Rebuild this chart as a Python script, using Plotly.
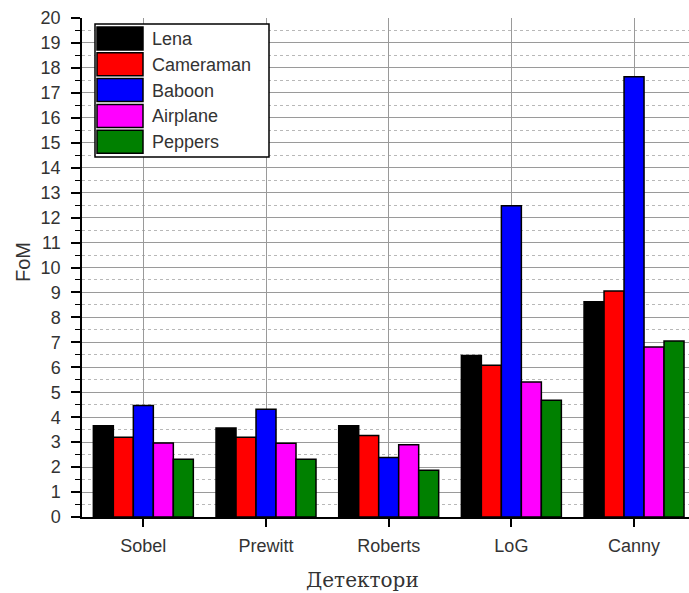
import plotly.graph_objects as go

# ---- data ----
detectors = ["Sobel", "Prewitt", "Roberts", "LoG", "Canny"]
series_names = ["Lena", "Cameraman", "Baboon", "Airplane", "Peppers"]
lena = [3.66, 3.57, 3.66, 6.47, 8.63]
cameraman = [3.20, 3.20, 3.27, 6.08, 9.06]
baboon = [4.47, 4.32, 2.38, 12.47, 17.65]
airplane = [2.97, 2.96, 2.90, 5.41, 6.81]
peppers = [2.31, 2.31, 1.87, 4.68, 7.05]
series_values = [lena, cameraman, baboon, airplane, peppers]
colors = ["#000000", "#FF0000", "#0000FF", "#FF00FF", "#008000"]

x_title = "Детектори"
y_title = "FoM"
y_ticks = list(range(0, 21))

# ---- layout geometry (pixels) ----
W, H = 689, 593
ML, MR, MT, MB = 82, 0, 18, 76
PW, PH = W - ML - MR, H - MT - MB

def px(x):
    return (x - ML) / PW

def py(y):
    return (H - MB - y) / PH

X_RANGE = [-0.5, 4.448]
TXT = "#333333"
SANS = "Liberation Sans, Arial, sans-serif"

fig = go.Figure()
for name, vals, col in zip(series_names, series_values, colors):
    fig.add_trace(go.Bar(
        x=detectors, y=vals, name=name,
        marker=dict(color=col, line=dict(color="black", width=1.5)),
        showlegend=False,
    ))

boundaries = [i - 0.5 for i in range(len(detectors) + 1)]
centers = list(range(len(detectors)))

fig.update_layout(
    width=W, height=H,
    margin=dict(l=ML, r=MR, t=MT, b=MB, pad=0),
    paper_bgcolor="white", plot_bgcolor="white",
    barmode="group", bargap=0.185, bargroupgap=0,
    xaxis=dict(
        type="category", range=X_RANGE,
        showgrid=True, gridcolor="#9a9a9a", gridwidth=1,
        ticks="outside", ticklen=8, tickwidth=1.5, tickcolor="black",
        showline=True, linecolor="black", linewidth=2,
        tickfont=dict(family=SANS, size=18, color=TXT),
        ticklabelstandoff=3,
        zeroline=False,
    ),
    xaxis3=dict(
        overlaying="x", anchor="y", side="bottom", range=X_RANGE,
        tickmode="array", tickvals=boundaries,
        ticks="outside", ticklen=4, tickwidth=1.2, tickcolor="black",
        showticklabels=False, showline=False,
        showgrid=True, gridcolor="#b8b8b8", gridwidth=1, griddash="dot",
        zeroline=False,
    ),
    xaxis2=dict(
        overlaying="x", anchor="y", side="top", range=X_RANGE,
        tickmode="array", tickvals=centers,
        ticks="inside", ticklen=7, tickwidth=1.5, tickcolor="black",
        minor=dict(tickmode="array", tickvals=boundaries, ticks="inside",
                   ticklen=4, tickwidth=1.2, tickcolor="black"),
        showticklabels=False, showline=True, linecolor="black", linewidth=2,
        showgrid=False, zeroline=False,
    ),
    yaxis=dict(
        range=[0, 20], tickmode="array", tickvals=y_ticks,
        showgrid=True, gridcolor="#9a9a9a", gridwidth=1,
        ticks="outside", ticklen=9, tickwidth=1.5, tickcolor="black",
        minor=dict(dtick=0.5, tick0=0, ticks="outside", ticklen=5,
                   tickwidth=1.2, tickcolor="black",
                   showgrid=True, gridcolor="#b8b8b8", gridwidth=1,
                   griddash="dot"),
        showline=True, linecolor="black", linewidth=1.5,
        tickfont=dict(family=SANS, size=18, color=TXT),
        ticklabelstandoff=7,
        zeroline=False,
    ),
    yaxis2=dict(
        overlaying="y", anchor="x", side="left", range=[0, 20],
        tickmode="array", tickvals=y_ticks,
        ticks="inside", ticklen=7, tickwidth=1.5, tickcolor="black",
        minor=dict(dtick=0.5, tick0=0, ticks="inside", ticklen=5,
                   tickwidth=1.2, tickcolor="black"),
        showticklabels=False, showgrid=False, showline=False, zeroline=False,
    ),
)

# axis titles
fig.add_annotation(
    x=px(23), y=py(262), xref="paper", yref="paper",
    text=y_title, textangle=-90, showarrow=False,
    font=dict(family=SANS, size=20, color=TXT),
    xanchor="center", yanchor="middle",
)
fig.add_annotation(
    x=px(362), y=py(580), xref="paper", yref="paper",
    text=x_title, showarrow=False,
    font=dict(family="DejaVu Serif, serif", size=20, color=TXT),
    xanchor="center", yanchor="middle",
)

# custom legend (wide swatches like the original)
LX0, LX1, LY0, LY1 = 95, 269, 24, 157
fig.add_shape(type="rect", xref="paper", yref="paper",
              x0=px(LX0), x1=px(LX1), y0=py(LY0), y1=py(LY1),
              fillcolor="white", line=dict(color="black", width=1.5),
              layer="above")
for i, (name, col) in enumerate(zip(series_names, colors)):
    top = 27 + i * 25.8
    fig.add_shape(type="rect", xref="paper", yref="paper",
                  x0=px(97), x1=px(143), y0=py(top), y1=py(top + 23),
                  fillcolor=col, line=dict(color="black", width=1.5),
                  layer="above")
    fig.add_annotation(x=px(150), y=py(top + 12), xref="paper", yref="paper",
                       text=name, showarrow=False, xanchor="left",
                       yanchor="middle",
                       font=dict(family=SANS, size=18, color=TXT))

fig.write_html(
    "out.html",
    config={"displayModeBar": False},
    post_script="document.body.style.margin='0';document.body.style.overflow='hidden';",
)
